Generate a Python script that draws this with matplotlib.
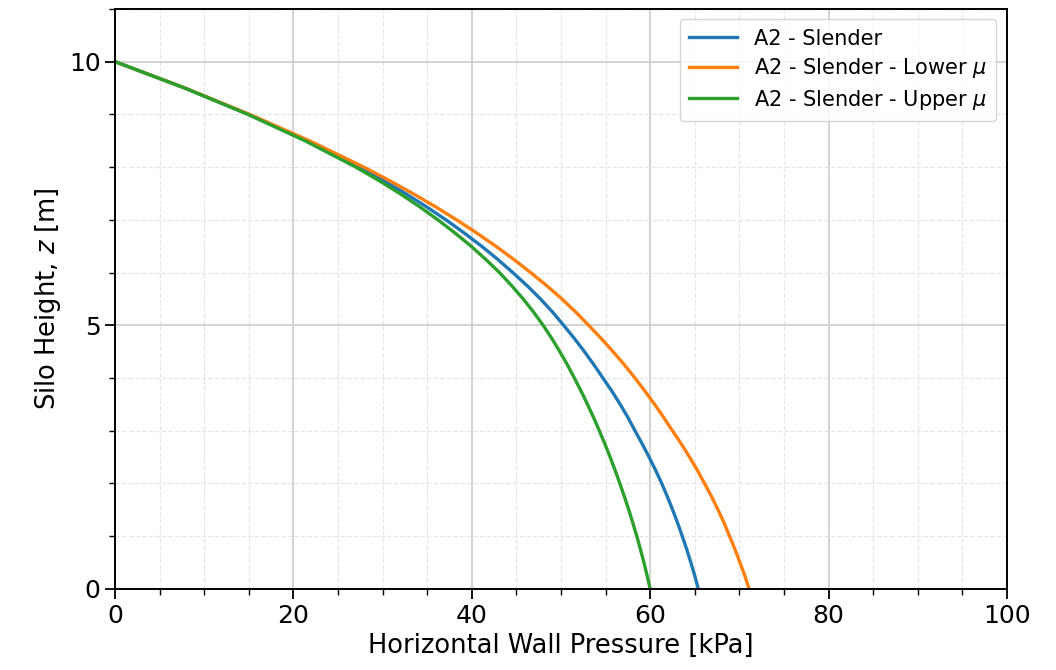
import numpy as np
import matplotlib
matplotlib.use('Agg')
import matplotlib.pyplot as plt
from matplotlib.ticker import MultipleLocator

# silo height [m], shared by all three series
height = [10, 9.5, 9, 8.5, 8, 7.75, 7.5, 7.25, 7, 6.75, 6.5, 6.25, 6,
          5.75, 5.5, 5.25, 5, 4.75, 4.5, 4.25, 4, 3.75, 3.5, 3.25, 3,
          2.75, 2.5, 2.25, 2, 1.75, 1.5, 1.25, 1, 0.75, 0.5, 0.25, 0]

# horizontal wall pressure [kPa]
p_slender = [0, 7.83, 15.0, 21.53, 27.4, 30.05, 32.55, 34.9, 37.1, 39.16, 41.1, 42.91, 44.6,
             46.21, 47.7, 49.06, 50.3, 51.5, 52.63, 53.7, 54.7, 55.71, 56.64, 57.51, 58.3,
             59.11, 59.88, 60.61, 61.3, 61.93, 62.52, 63.08, 63.6, 64.1, 64.56, 65.0, 65.4]
p_lower = [0, 7.84, 15.1, 21.79, 27.9, 30.71, 33.38, 35.91, 38.3, 40.56, 42.69, 44.71, 46.6,
           48.41, 50.1, 51.66, 53.1, 54.51, 55.84, 57.11, 58.3, 59.42, 60.5, 61.52, 62.5,
           63.49, 64.42, 65.29, 66.1, 66.89, 67.61, 68.29, 68.9, 69.51, 70.07, 70.61, 71.1]
p_upper = [0, 7.8, 14.9, 21.3, 27.0, 29.54, 31.92, 34.14, 36.2, 38.12, 39.92, 41.57, 43.1,
           44.48, 45.76, 46.93, 48.0, 48.97, 49.87, 50.72, 51.5, 52.26, 52.97, 53.66, 54.3,
           54.92, 55.51, 56.07, 56.6, 57.11, 57.6, 58.06, 58.5, 58.91, 59.3, 59.66, 60.0]

labels = ['A2 - Slender', r'A2 - Slender - Lower $\mu$', r'A2 - Slender - Upper $\mu$']
colors = ['#1f77b4', '#ff7f0e', '#2ca02c']

fig = plt.figure(figsize=(10.56, 6.7), dpi=100)
ax = fig.add_axes([0.109, 0.121, 0.8445, 0.8656])

for p, lab, c in zip([p_slender, p_lower, p_upper], labels, colors):
    ax.plot(p, height, color=c, lw=2.4, label=lab)

ax.set_xlim(0, 100)
ax.set_ylim(0, 11)
ax.xaxis.set_major_locator(MultipleLocator(20))
ax.xaxis.set_minor_locator(MultipleLocator(5))
ax.yaxis.set_major_locator(MultipleLocator(5))
ax.yaxis.set_minor_locator(MultipleLocator(1))

ax.grid(True, which='major', color='#d0d0d0', lw=1.3)
ax.grid(True, which='minor', color='#e6e6e6', lw=0.9, ls='--')
ax.set_axisbelow(True)

ax.tick_params(which='major', length=7, width=1.3, labelsize=18)
ax.tick_params(which='minor', length=4, width=1.0)
for s in ax.spines.values():
    s.set_linewidth(1.4)

ax.set_xlabel('Horizontal Wall Pressure [kPa]', fontsize=18.5, labelpad=4)
ax.set_ylabel('Silo Height, $z$ [m]', fontsize=18.5)
ax.legend(loc='upper right', fontsize=15, framealpha=0.8, borderpad=0.45,
          labelspacing=0.36, handlelength=2.3)

fig.savefig('out.png', dpi=100)
